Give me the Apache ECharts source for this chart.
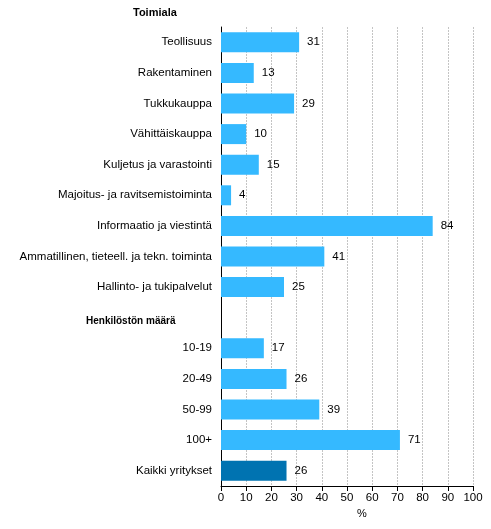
<!DOCTYPE html>
<html>
<head>
<meta charset="utf-8">
<script src="https://cdn.jsdelivr.net/npm/echarts@6/dist/echarts.min.js"></script>
<style>html,body{margin:0;padding:0;background:#fff;}#c{width:491px;height:529px;}</style>
</head>
<body>
<div id="c"></div>
<script>
var categories = ["Teollisuus","Rakentaminen","Tukkukauppa","Vähittäiskauppa","Kuljetus ja varastointi","Majoitus- ja ravitsemistoiminta","Informaatio ja viestintä","Ammatillinen, tieteell. ja tekn. toiminta","Hallinto- ja tukipalvelut","","10-19","20-49","50-99","100+","Kaikki yritykset"];
var values = [31,13,29,10,15,4,84,41,25,null,17,26,39,71,26];
var highlight = ["Kaikki yritykset"];
var xTicks = [0,10,20,30,40,50,60,70,80,90,100];
var headerTop = "Toimiala";
var headerMid = "Henkilöstön määrä";
var axisName = "%";

var LIGHT = "#35B9FF", DARK = "#0073B1";
var font = "'Liberation Sans', Arial, sans-serif";
var chart = echarts.init(document.getElementById('c'));
chart.setOption({
  animation: false,
  grid: {left: 221, right: 18, top: 27, bottom: 43, containLabel: false},
  xAxis: {
    type: 'value', min: xTicks[0], max: xTicks[xTicks.length-1], interval: 10,
    name: axisName, nameLocation: 'middle', nameGap: 19,
    nameTextStyle: {color: '#000', fontSize: 11, fontFamily: font, padding: [0,0,0,30]},
    axisLine: {show: true, lineStyle: {color: '#000', width: 1}},
    axisTick: {show: true, length: 5, lineStyle: {color: '#000'}},
    axisLabel: {color: '#000', fontSize: 11.5, fontFamily: font, margin: 6},
    splitLine: {show: true, lineStyle: {color: '#c4c4c4', type: [2,1], width: 1}}
  },
  yAxis: {
    type: 'category', data: categories, inverse: true,
    axisLine: {show: true, lineStyle: {color: '#000', width: 1}},
    axisTick: {show: false},
    axisLabel: {color: '#000', fontSize: 11.5, fontFamily: font, margin: 9}
  },
  series: [{
    type: 'bar', barWidth: 20,
    data: values.map(function(v, i){
      return {value: v, itemStyle: {color: highlight.indexOf(categories[i]) >= 0 ? DARK : LIGHT}};
    }),
    label: {show: true, position: 'right', distance: 8, color: '#000', fontSize: 11.5, fontFamily: font,
      formatter: function(p){ return p.value == null ? '' : p.value; }}
  }],
  graphic: [
    {type: 'text', left: 133, top: 7, style: {text: headerTop, font: "bold 11px " + font, fill: '#000'}},
    {type: 'text', left: 86, top: 316, style: {text: headerMid, font: "bold 10px " + font, fill: '#000'}}
  ]
});
</script>
</body>
</html>
